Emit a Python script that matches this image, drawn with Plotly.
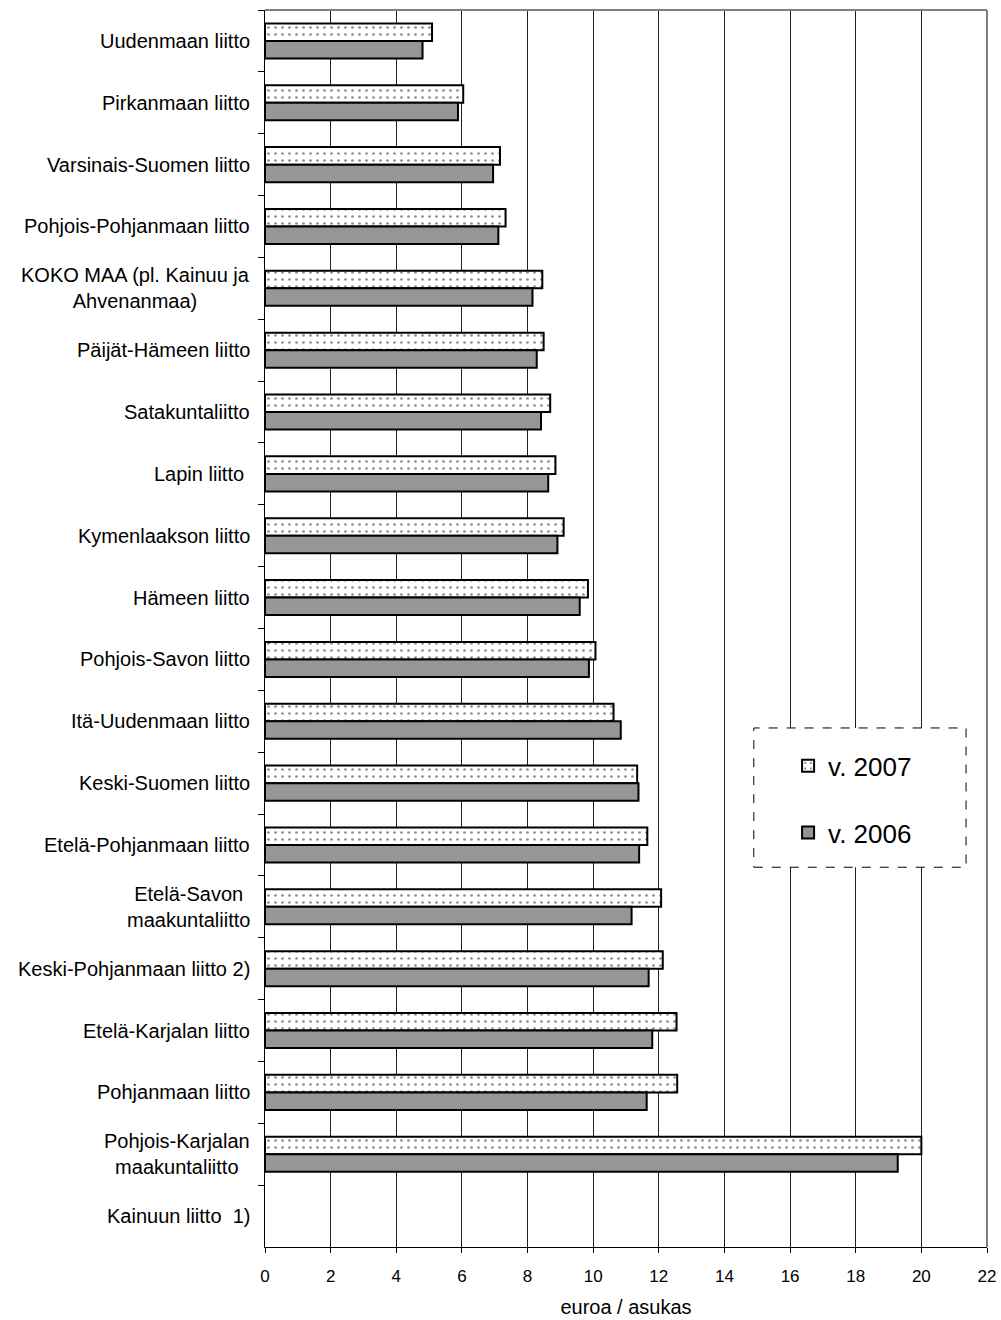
import plotly.graph_objects as go

categories = [
    "Uudenmaan liitto",
    "Pirkanmaan liitto",
    "Varsinais-Suomen liitto",
    "Pohjois-Pohjanmaan liitto",
    "KOKO MAA (pl. Kainuu ja<br>Ahvenanmaa)",
    "Päijät-Hämeen liitto",
    "Satakuntaliitto",
    "Lapin liitto ",
    "Kymenlaakson liitto",
    "Hämeen liitto",
    "Pohjois-Savon liitto",
    "Itä-Uudenmaan liitto",
    "Keski-Suomen liitto",
    "Etelä-Pohjanmaan liitto",
    "Etelä-Savon<br>maakuntaliitto",
    "Keski-Pohjanmaan liitto 2)",
    "Etelä-Karjalan liitto",
    "Pohjanmaan liitto",
    "Pohjois-Karjalan<br>maakuntaliitto",
    "Kainuun liitto  1)",
]

v2007 = [5.09, 6.04, 7.16, 7.33, 8.45, 8.49, 8.69, 8.85, 9.10, 9.84,
         10.07, 10.62, 11.34, 11.65, 12.07, 12.12, 12.54, 12.56, 20.0, None]
v2006 = [4.80, 5.88, 6.95, 7.11, 8.15, 8.28, 8.41, 8.63, 8.91, 9.59,
         9.87, 10.84, 11.38, 11.40, 11.17, 11.69, 11.80, 11.63, 19.28, None]

x_ticks = list(range(0, 23, 2))
series_names = ["v. 2007", "v. 2006"]
x_title = "euroa / asukas"

FONT = "Liberation Sans, Arial, sans-serif"

fig = go.Figure()
fig.add_trace(go.Bar(
    y=categories, x=v2007, orientation="h", name=series_names[0],
    legendgroup="a",
    marker=dict(color="white", line=dict(color="black", width=2),
                pattern=dict(shape=".", fgcolor="#8c8c8c", bgcolor="white",
                             size=7, solidity=0.12, fillmode="replace")),
))
fig.add_trace(go.Bar(
    y=categories, x=v2006, orientation="h", name=series_names[1],
    legendgroup="b",
    marker=dict(color="#969696", line=dict(color="black", width=2)),
))

annotations = []
for c in categories:
    annotations.append(dict(
        x=0, xref="paper", y=c, yref="y", xanchor="right", yanchor="middle",
        xshift=-13, text=c, showarrow=False, align="center",
        font=dict(family=FONT, size=20, color="black"),
    ))

shapes = [
    # dashed legend box
    dict(type="rect", xref="paper", yref="paper", x0=0.677, x1=0.971,
         y0=0.307, y1=0.4196, line=dict(color="black", width=1, dash="dash"),
         fillcolor="white", layer="above"),
    # gray top & right frame
    dict(type="line", xref="paper", yref="paper", x0=0, x1=1, y0=1, y1=1,
         line=dict(color="#808080", width=2), layer="above"),
    dict(type="line", xref="paper", yref="paper", x0=1, x1=1, y0=0, y1=1,
         line=dict(color="#808080", width=2), layer="above"),
]

fig.update_layout(
    width=1001, height=1320,
    margin=dict(l=265, r=14, t=10, b=73, autoexpand=False),
    paper_bgcolor="white", plot_bgcolor="white",
    barmode="group", bargap=0.434, bargroupgap=0,
    font=dict(family=FONT, color="black"),
    showlegend=True,
    legend=dict(x=0.7245, y=0.408, xanchor="left", yanchor="top",
                font=dict(family=FONT, size=26, color="black"),
                bgcolor="rgba(0,0,0,0)", traceorder="grouped",
                tracegroupgap=30, itemwidth=30),
    annotations=annotations,
    shapes=shapes,
)

fig.update_xaxes(
    range=[0, 22], tickvals=x_ticks, ticktext=[str(t) for t in x_ticks],
    automargin=False,
    showgrid=True, gridcolor="#202020", gridwidth=1, zeroline=False,
    showline=True, linecolor="black", linewidth=1,
    ticks="outside", ticklen=5, tickcolor="black", ticklabelstandoff=9,
    ticklabeloverflow="allow",
    tickfont=dict(family=FONT, size=17, color="black"),
    title=dict(text=x_title, font=dict(family=FONT, size=20, color="black"), standoff=14),
)
fig.update_yaxes(
    type="category", categoryorder="array", categoryarray=categories,
    range=[len(categories) - 0.5, -0.5], automargin=False,
    showgrid=False, zeroline=False, showticklabels=False,
    showline=True, linecolor="black", linewidth=1,
    ticks="outside", tickson="boundaries", ticklen=6, tickcolor="black",
)

fig.write_html(
    "out.html",
    config={"displayModeBar": False, "responsive": False},
    post_script="document.body.style.margin='0';document.body.style.overflow='hidden';",
)
